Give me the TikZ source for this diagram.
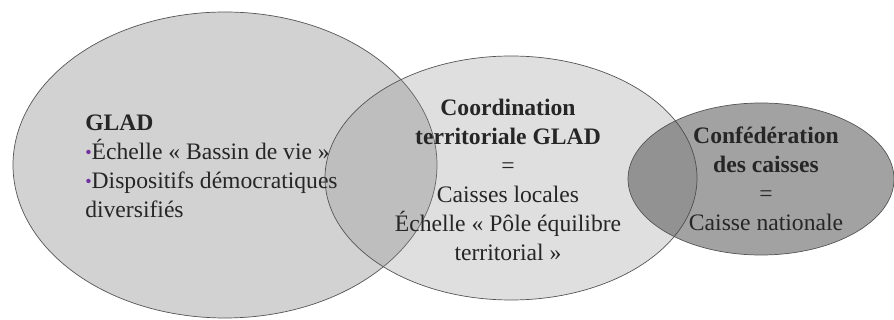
\documentclass[tikz,border=0pt]{standalone}
\usepackage{fontspec}
\setmainfont{Liberation Serif}
\definecolor{gladgray}{RGB}{210,210,210}
\definecolor{coordgray}{RGB}{140,140,140}
\definecolor{confgray}{RGB}{70,70,70}
\definecolor{linegray}{RGB}{85,85,85}
\definecolor{txtgray}{RGB}{38,38,38}
\definecolor{bulletpurple}{RGB}{112,48,160}
\newcommand{\pbullet}{{\fontsize{13}{13}\selectfont\color{bulletpurple}\raisebox{0.2ex}{•}}}
\begin{document}
\begin{tikzpicture}[every node/.style={inner sep=0mm,text=txtgray,font=\fontsize{16.8}{20.6}\selectfont},
  ring/.style={draw=linegray,line width=0.5pt}]
  \useasboundingbox (0,0) rectangle (22.35,8);
  % the three circles
  \draw [ring,fill=gladgray] (5.625,3.875) ellipse (5.3 and 3.825);
  \draw [ring,fill=coordgray,fill opacity=0.28] (12.775,3.55) ellipse (4.65 and 3.05);
  \draw [ring,fill=confgray,fill opacity=0.5] (19.025,3.525) ellipse (3.325 and 1.9);
  % texts
  \node [align=left,anchor=north west] (glad) at (2.125,5.125)
    {\textbf{GLAD}\\\pbullet Échelle « Bassin de vie »\\\pbullet Dispositifs démocratiques\\diversifiés};
  \node [align=center,anchor=north] (coord) at (12.7,5.52)
    {\textbf{Coordination}\\\textbf{territoriale GLAD}\\=\\Caisses locales\\Échelle « Pôle équilibre\\territorial »};
  \node [align=center,anchor=north] (conf) at (19.15,4.83)
    {\textbf{Confédération}\\\textbf{des caisses}\\=\\Caisse nationale};
\end{tikzpicture}
\end{document}
